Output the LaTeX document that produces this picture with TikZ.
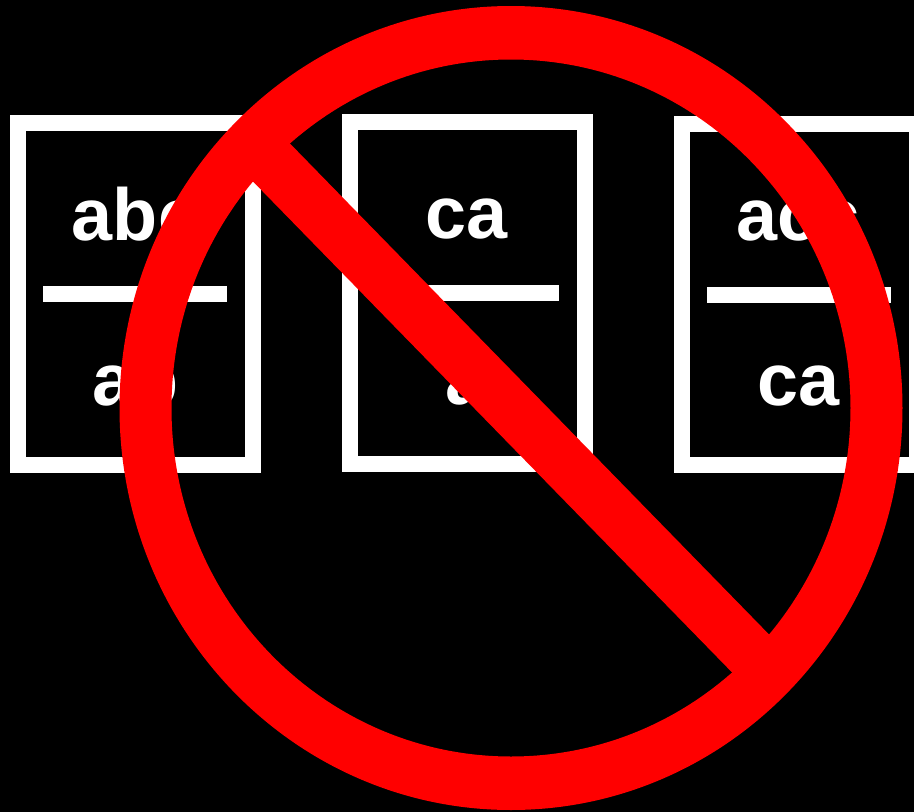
\documentclass[tikz,border=0pt]{standalone}
\usepackage{fontspec}
\setmainfont{Liberation Sans}

\begin{document}
\begin{tikzpicture}[x=0.02cm, y=-0.02cm]
    % Define colours
    \definecolor{borderColour}{HTML}{FFFFFF}
    \definecolor{signColour}{HTML}{FF0000}

    % Define line width and text style
    \def\cardLine{0.32cm}
    \tikzset{cardText/.style={text=borderColour, anchor=base, inner sep=0pt, font=\fontsize{42}{50}\selectfont\bfseries}}

    % Draw background
    \fill[black] (0,0) rectangle (914,812);
    \useasboundingbox (0,0) rectangle (914,812);

    % Draw the three cards
    \draw[borderColour, line width=\cardLine] (18,123) rectangle (253,465);
    \draw[borderColour, line width=\cardLine] (349.5,122) rectangle (585,464);
    \draw[borderColour, line width=\cardLine] (681.5,123.5) rectangle (916.5,465);

    % Draw the bar of each card
    \draw[borderColour, line width=\cardLine] (43,294) -- (227,294);
    \draw[borderColour, line width=\cardLine] (375,293) -- (559,293);
    \draw[borderColour, line width=\cardLine] (707,294.5) -- (891,294.5);

    % Label the cards
    \node[cardText] (topLeft) at (135.5,240) {abc};
    \node[cardText] (bottomLeft) at (135.5,405) {ab};
    \node[cardText] (topMiddle) at (466.5,238.5) {ca};
    \node[cardText] (bottomMiddle) at (466.5,404) {a};
    \node[cardText] (topRight) at (798.5,240) {acc};
    \node[cardText] (bottomRight) at (798.5,405) {ca};

    % Draw the ring and the slash over the cards
    \fill[signColour, even odd rule] (511,408) ellipse [x radius=391.5, y radius=402]
        (511,408) ellipse [x radius=339.5, y radius=348.5];
    \draw[signColour, line width=1.06cm] (250,140.5) -- (775,678.5);

\end{tikzpicture}
\end{document}
